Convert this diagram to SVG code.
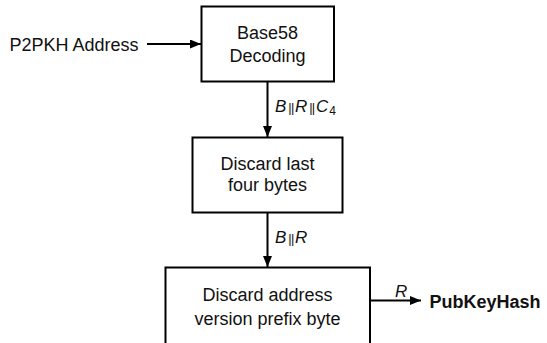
<svg xmlns="http://www.w3.org/2000/svg" width="547" height="343" viewBox="0 0 547 343">
<style>
.box{fill:#fff;stroke:#000;stroke-width:2}
.t{font-family:"Liberation Sans",Arial,sans-serif;font-size:18px;fill:#111;text-anchor:middle}
.lbl{font-family:"Liberation Sans",Arial,sans-serif;font-size:17px;fill:#111;font-style:italic}
.bar{font-style:normal;font-size:13px;letter-spacing:-0.8px}
.sub{font-style:normal;font-size:12px}
.bold{font-family:"Liberation Sans",Arial,sans-serif;font-size:18px;font-weight:bold;fill:#111}
.c{stroke:#000;stroke-width:2;fill:none}
</style>
<defs>
<marker id="ah" markerUnits="userSpaceOnUse" markerWidth="12" markerHeight="10" refX="11" refY="4.5" orient="auto">
<path d="M0,0 L11,4.5 L0,9 z" fill="#000"/>
</marker>
</defs>
<rect width="547" height="343" fill="#fff"/>
<g id="input">
<text class="t" x="74" y="51">P2PKH Address</text>
</g>
<g id="base58">
<rect class="box" x="201.5" y="6.5" width="132.5" height="75"/>
<text class="t" x="267.5" y="38.5">Base58</text>
<text class="t" x="267.5" y="62">Decoding</text>
</g>
<g id="discard4">
<rect class="box" x="192.5" y="137.5" width="150" height="75"/>
<text class="t" x="267.5" y="170">Discard last</text>
<text class="t" x="267.5" y="191">four bytes</text>
</g>
<g id="discardprefix">
<rect class="box" x="165.5" y="267.5" width="204.5" height="80"/>
<text class="t" x="267.5" y="301">Discard address</text>
<text class="t" x="267.5" y="324.5">version prefix byte</text>
</g>
<g id="output">
<text class="bold" x="429.5" y="307.5">PubKeyHash</text>
</g>
<g id="connectors">
<line class="c" x1="147" y1="44" x2="201" y2="44" marker-end="url(#ah)"/>
<line class="c" x1="267.5" y1="82" x2="267.5" y2="137" marker-end="url(#ah)"/>
<text class="lbl" x="275" y="112">B<tspan class="bar" dx="2">||</tspan><tspan dx="1.5">R</tspan><tspan class="bar" dx="2">||</tspan><tspan dx="1.5">C</tspan><tspan class="sub" dx="1" dy="3">4</tspan></text>
<line class="c" x1="267.5" y1="213" x2="267.5" y2="267" marker-end="url(#ah)"/>
<text class="lbl" x="275" y="242.5">B<tspan class="bar" dx="2">||</tspan><tspan dx="1.5">R</tspan></text>
<line class="c" x1="370" y1="300.5" x2="421" y2="300.5" marker-end="url(#ah)"/>
<text class="lbl" x="395" y="297">R</text>
</g>
</svg>
